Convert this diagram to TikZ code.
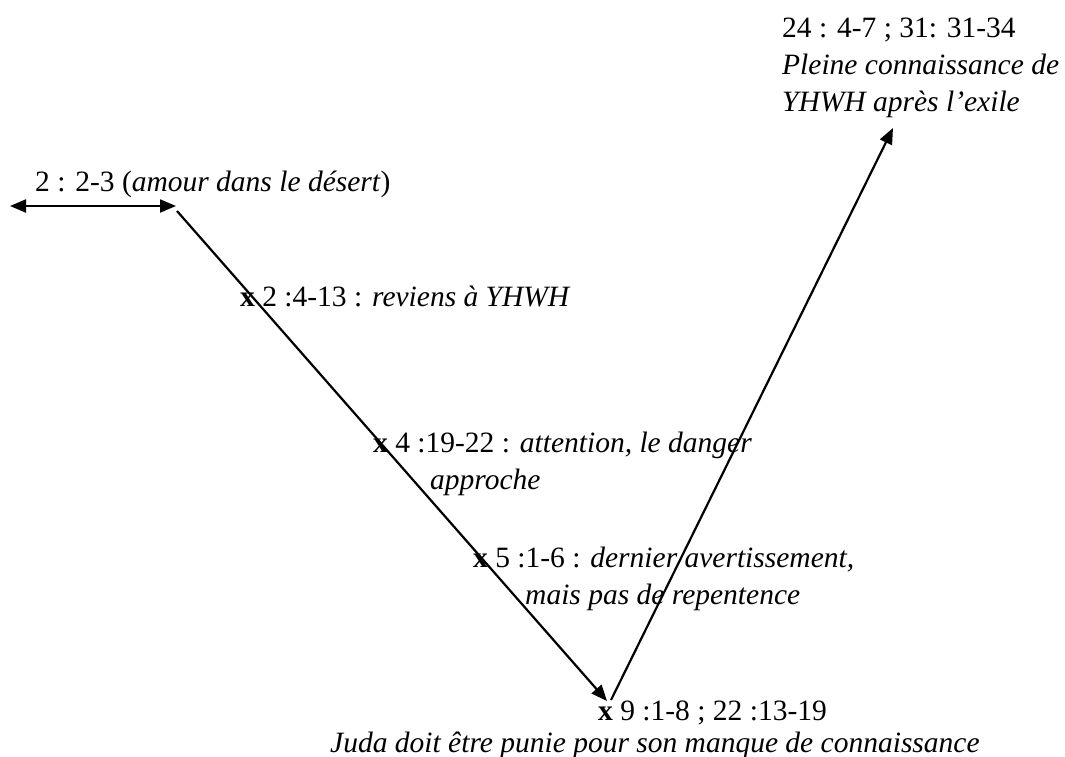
\documentclass[tikz,border=0pt]{standalone}
\usepackage{fontspec}
\setmainfont{Liberation Serif}
\usetikzlibrary{arrows.meta}
\begin{document}
\begin{tikzpicture}[x=1pt,y=-1pt,
  lbl/.style={anchor=base west,inner sep=0pt,align=left,font=\fontsize{29.5}{37}\selectfont},
  arr/.style={line width=2.2pt,-{Triangle[length=16pt,width=13pt]}},
  darr/.style={line width=2.2pt,{Triangle[length=16pt,width=13pt]}-{Triangle[length=16pt,width=13pt]}}]
\useasboundingbox (0,0) rectangle (1065,757);
\coordinate (L) at (10,206);
\coordinate (R) at (176,206);
\coordinate (S) at (177,211);
\coordinate (V) at (607,701);
\coordinate (W) at (611,700);
\coordinate (T) at (893,128);
\draw[darr] (L) -- (R);
\draw[arr] (S) -- (V);
\draw[arr] (W) -- (T);
\node[lbl] (n1) at (35,191) {2 : 2-3 (\textit{amour dans le désert})};
\node[lbl] (n2) at (240,306) {\textbf{x} 2 :4-13 : \textit{reviens à YHWH}};
\node[lbl] (n3) at (373,489) {\textbf{x} 4 :19-22 : \textit{attention, le danger}\\\hspace*{57pt}\textit{approche}};
\node[lbl] (n4) at (473,604) {\textbf{x} 5 :1-6 : \textit{dernier avertissement,}\\\hspace*{52pt}\textit{mais pas de repentence}};
\node[lbl] (n5) at (598,720) {\textbf{x} 9 :1-8 ; 22 :13-19};
\node[lbl] (n6) at (330,752) {\textit{Juda doit être punie pour son manque de connaissance}};
\node[lbl] (n7) at (782,112) {24 : 4-7 ; 31: 31-34\\\textit{Pleine connaissance de}\\\textit{YHWH après l’exile}};
\end{tikzpicture}
\end{document}
